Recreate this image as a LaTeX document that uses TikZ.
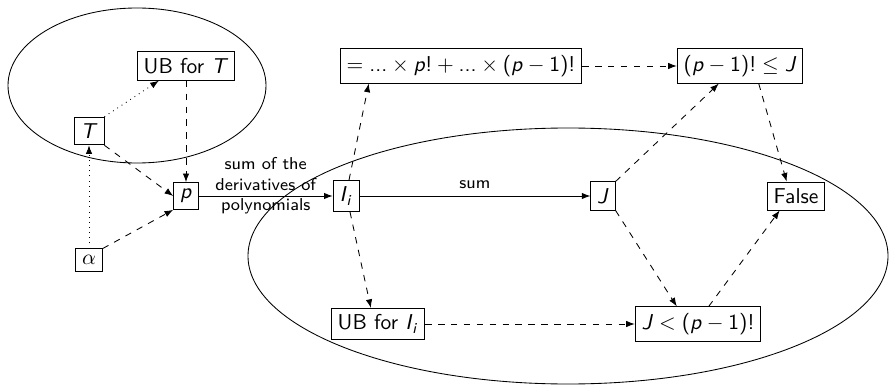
\documentclass[tikz,border=0pt]{standalone}
\usepackage{amsmath}
\usetikzlibrary{calc,arrows.meta}
\newcommand{\mv}[1]{\textsl{#1}}
\begin{document}
\begin{tikzpicture}[x=0.465pt,y=-0.465pt,
  box/.style={draw,font=\sffamily,inner sep=3pt},
  arr/.style={-{Latex[length=4pt,width=3pt]}},
  dsh/.style={arr,dashed},
  dtt/.style={arr,dotted},
  lbl/.style={font=\sffamily\footnotesize,align=center}]
\useasboundingbox (0,0) rectangle (890,387);
\draw (137,85.5) ellipse [x radius=129, y radius=77.5];
\draw (568,256) ellipse [x radius=320, y radius=128];
\node[box] (ubt) at (186,66) {UB for \mv{T}};
\node[box] (T) at (89,131) {\mv{T}};
\node[box] (p) at (186,196) {\mv{p}};
\node[box] (al) at (89,260) {$\alpha$};
\node[box] (Ii) at (346,196) {\mv{I}$_{\text{\mv{i}}}$};
\node[box] (eq) at (461,66) {$=\mbox{...}\times\mbox{\mv{p}!}+\mbox{...}\times\mbox{(\mv{p}}-\mbox{1)!}$};
\node[box] (le) at (740,66) {$\mbox{(\mv{p}}-\mbox{1)!}\leq\mbox{\mv{J}}$};
\node[box] (J) at (603,196) {\mv{J}};
\node[box] (F) at (796,196) {False};
\node[box] (ubi) at (378,324) {UB for \mv{I}$_{\text{\mv{i}}}$};
\node[box] (lt) at (698,324) {$\mbox{\mv{J}}<\mbox{(\mv{p}}-\mbox{1)!}$};
\draw[dtt] (T.north east) -- ($(ubt.south west)+(22,0)$);
\draw[dsh] (ubt.south) -- (p.north);
\draw[dsh] (T.south east) -- (p.west);
\draw[dtt] (al.north) -- (T.south);
\draw[dsh] (al.north east) -- (p.south west);
\draw[arr] (p) -- node[lbl,yshift=10*0.465pt] {sum of the\\derivatives of\\polynomials} (Ii);
\draw[arr] (Ii) -- node[lbl,above] {sum} (J);
\draw[dsh] ($(Ii.north)+(3,0)$) -- ($(eq.south west)+(29,0)$);
\draw[dsh] ($(Ii.south)+(4,0)$) -- ($(ubi.north west)+(40,0)$);
\draw[dsh] (eq) -- (le);
\draw[dsh] (J.north east) -- ($(le.south west)+(42,0)$);
\draw[dsh] ($(le.south west)+(82,0)$) -- ($(F.north west)+(20,0)$);
\draw[dsh] (J.south east) -- ($(lt.north west)+(42,0)$);
\draw[dsh] (ubi) -- (lt);
\draw[dsh] ($(lt.north west)+(74,0)$) -- ($(F.south west)+(13,0)$);
\end{tikzpicture}
\end{document}
